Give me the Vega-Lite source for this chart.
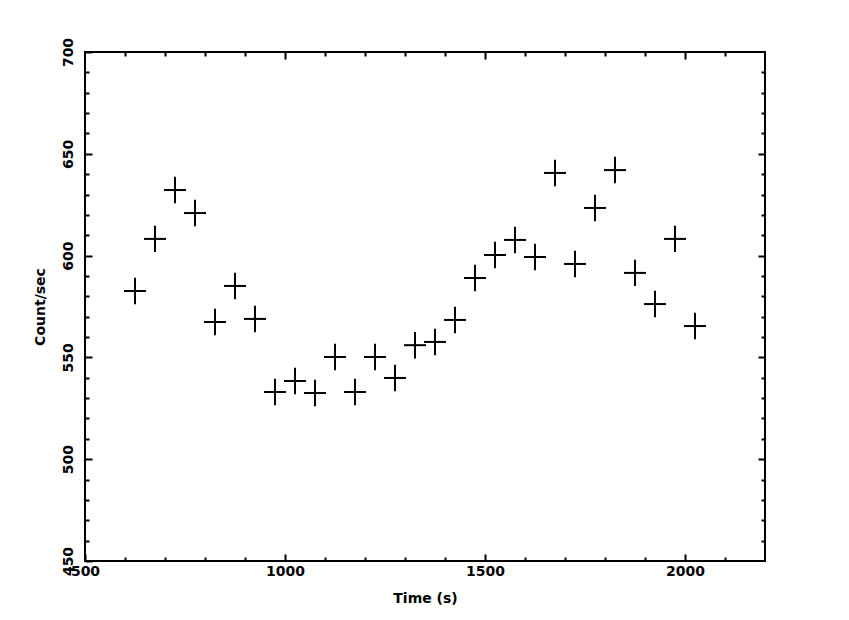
{
  "$schema": "https://vega.github.io/schema/vega-lite/v6.json",
  "width": 680,
  "height": 509,
  "autosize": {"type": "none"},
  "padding": {"left": 85, "top": 52, "right": 84, "bottom": 59},
  "background": "white",
  "config": {
    "view": {"stroke": "black", "strokeWidth": 2},
    "font": "DejaVu Sans",
    "axis": {
      "grid": false,
      "domain": false,
      "tickColor": "black",
      "tickWidth": 2,
      "labelColor": "black",
      "titleColor": "black",
      "labelFont": "DejaVu Sans",
      "titleFont": "DejaVu Sans",
      "labelFontSize": 14,
      "labelFontWeight": "bold",
      "labelFlush": false,
      "labelOverlap": false,
      "titleFontSize": 14,
      "titleFontWeight": "bold"
    }
  },
  "data": {
    "values": [
      {"t": 625, "t0": 600, "t1": 650, "rate": 582.6, "r0": 576.6, "r1": 588.6},
      {"t": 675, "t0": 650, "t1": 700, "rate": 608.2, "r0": 602.2, "r1": 614.2},
      {"t": 725, "t0": 700, "t1": 750, "rate": 632.2, "r0": 626.2, "r1": 638.2},
      {"t": 775, "t0": 750, "t1": 800, "rate": 620.9, "r0": 614.9, "r1": 626.9},
      {"t": 825, "t0": 800, "t1": 850, "rate": 567.4, "r0": 561.4, "r1": 573.4},
      {"t": 875, "t0": 850, "t1": 900, "rate": 585.1, "r0": 579.1, "r1": 591.1},
      {"t": 925, "t0": 900, "t1": 950, "rate": 568.9, "r0": 562.9, "r1": 574.9},
      {"t": 975, "t0": 950, "t1": 1000, "rate": 533.0, "r0": 527.0, "r1": 539.0},
      {"t": 1025, "t0": 1000, "t1": 1050, "rate": 538.4, "r0": 532.4, "r1": 544.4},
      {"t": 1075, "t0": 1050, "t1": 1100, "rate": 532.5, "r0": 526.5, "r1": 538.5},
      {"t": 1125, "t0": 1100, "t1": 1150, "rate": 550.2, "r0": 544.2, "r1": 556.2},
      {"t": 1175, "t0": 1150, "t1": 1200, "rate": 533.0, "r0": 527.0, "r1": 539.0},
      {"t": 1225, "t0": 1200, "t1": 1250, "rate": 550.2, "r0": 544.2, "r1": 556.2},
      {"t": 1275, "t0": 1250, "t1": 1300, "rate": 539.9, "r0": 533.9, "r1": 545.9},
      {"t": 1325, "t0": 1300, "t1": 1350, "rate": 556.0, "r0": 550.0, "r1": 562.0},
      {"t": 1375, "t0": 1350, "t1": 1400, "rate": 557.6, "r0": 551.6, "r1": 563.6},
      {"t": 1425, "t0": 1400, "t1": 1450, "rate": 568.4, "r0": 562.4, "r1": 574.4},
      {"t": 1475, "t0": 1450, "t1": 1500, "rate": 589.0, "r0": 583.0, "r1": 595.0},
      {"t": 1525, "t0": 1500, "t1": 1550, "rate": 600.3, "r0": 594.3, "r1": 606.3},
      {"t": 1575, "t0": 1550, "t1": 1600, "rate": 607.7, "r0": 601.7, "r1": 613.7},
      {"t": 1625, "t0": 1600, "t1": 1650, "rate": 599.3, "r0": 593.3, "r1": 605.3},
      {"t": 1675, "t0": 1650, "t1": 1700, "rate": 640.6, "r0": 634.6, "r1": 646.6},
      {"t": 1725, "t0": 1700, "t1": 1750, "rate": 595.9, "r0": 589.9, "r1": 601.9},
      {"t": 1775, "t0": 1750, "t1": 1800, "rate": 623.4, "r0": 617.4, "r1": 629.4},
      {"t": 1825, "t0": 1800, "t1": 1850, "rate": 642.0, "r0": 636.0, "r1": 648.0},
      {"t": 1875, "t0": 1850, "t1": 1900, "rate": 591.5, "r0": 585.5, "r1": 597.5},
      {"t": 1925, "t0": 1900, "t1": 1950, "rate": 576.2, "r0": 570.2, "r1": 582.2},
      {"t": 1975, "t0": 1950, "t1": 2000, "rate": 608.2, "r0": 602.2, "r1": 614.2},
      {"t": 2025, "t0": 2000, "t1": 2050, "rate": 565.4, "r0": 559.4, "r1": 571.4}
    ]
  },
  "resolve": {"axis": {"x": "independent", "y": "independent"}},
  "layer": [
    {
      "mark": {"type": "rule", "color": "black", "strokeWidth": 2, "strokeCap": "square"},
      "encoding": {
        "x": {"field": "t0", "type": "quantitative",
              "scale": {"domain": [500, 2200], "nice": false, "zero": false},
              "axis": {"orient": "bottom", "values": [500, 1000, 1500, 2000], "tickSize": -7, "labelPadding": 10, "format": "d", "title": "Time (s)", "titlePadding": 13}},
        "x2": {"field": "t1"},
        "y": {"field": "rate", "type": "quantitative",
              "scale": {"domain": [450, 700], "nice": false, "zero": false},
              "axis": {"orient": "left", "values": [450, 500, 550, 600, 650, 700], "tickSize": -7, "labelAngle": -90, "labelAlign": "center", "labelBaseline": "bottom", "labelPadding": 17, "format": "d", "title": "Count/sec", "titlePadding": 14}}
      }
    },
    {
      "mark": {"type": "rule", "color": "black", "strokeWidth": 2, "strokeCap": "square"},
      "encoding": {
        "x": {"field": "t", "type": "quantitative",
              "axis": {"orient": "bottom", "values": [600, 700, 800, 900, 1100, 1200, 1300, 1400, 1600, 1700, 1800, 1900, 2100], "tickSize": -4, "labels": false, "title": null}},
        "y": {"field": "r0", "type": "quantitative",
              "axis": {"orient": "left", "values": [460, 470, 480, 490, 510, 520, 530, 540, 560, 570, 580, 590, 610, 620, 630, 640, 660, 670, 680, 690], "tickSize": -4, "labels": false, "title": null}},
        "y2": {"field": "r1"}
      }
    },
    {
      "mark": {"type": "point", "opacity": 0},
      "encoding": {
        "x": {"field": "t", "type": "quantitative",
              "axis": {"orient": "top", "values": [1000, 1500, 2000], "tickSize": -7, "labels": false, "title": null}},
        "y": {"field": "rate", "type": "quantitative",
              "axis": {"orient": "right", "values": [500, 550, 600, 650], "tickSize": -7, "labels": false, "title": null}}
      }
    },
    {
      "mark": {"type": "point", "opacity": 0},
      "encoding": {
        "x": {"field": "t", "type": "quantitative",
              "axis": {"orient": "top", "values": [600, 700, 800, 900, 1100, 1200, 1300, 1400, 1600, 1700, 1800, 1900, 2100], "tickSize": -4, "labels": false, "title": null}},
        "y": {"field": "rate", "type": "quantitative",
              "axis": {"orient": "right", "values": [460, 470, 480, 490, 510, 520, 530, 540, 560, 570, 580, 590, 610, 620, 630, 640, 660, 670, 680, 690], "tickSize": -4, "labels": false, "title": null}}
      }
    }
  ]
}
